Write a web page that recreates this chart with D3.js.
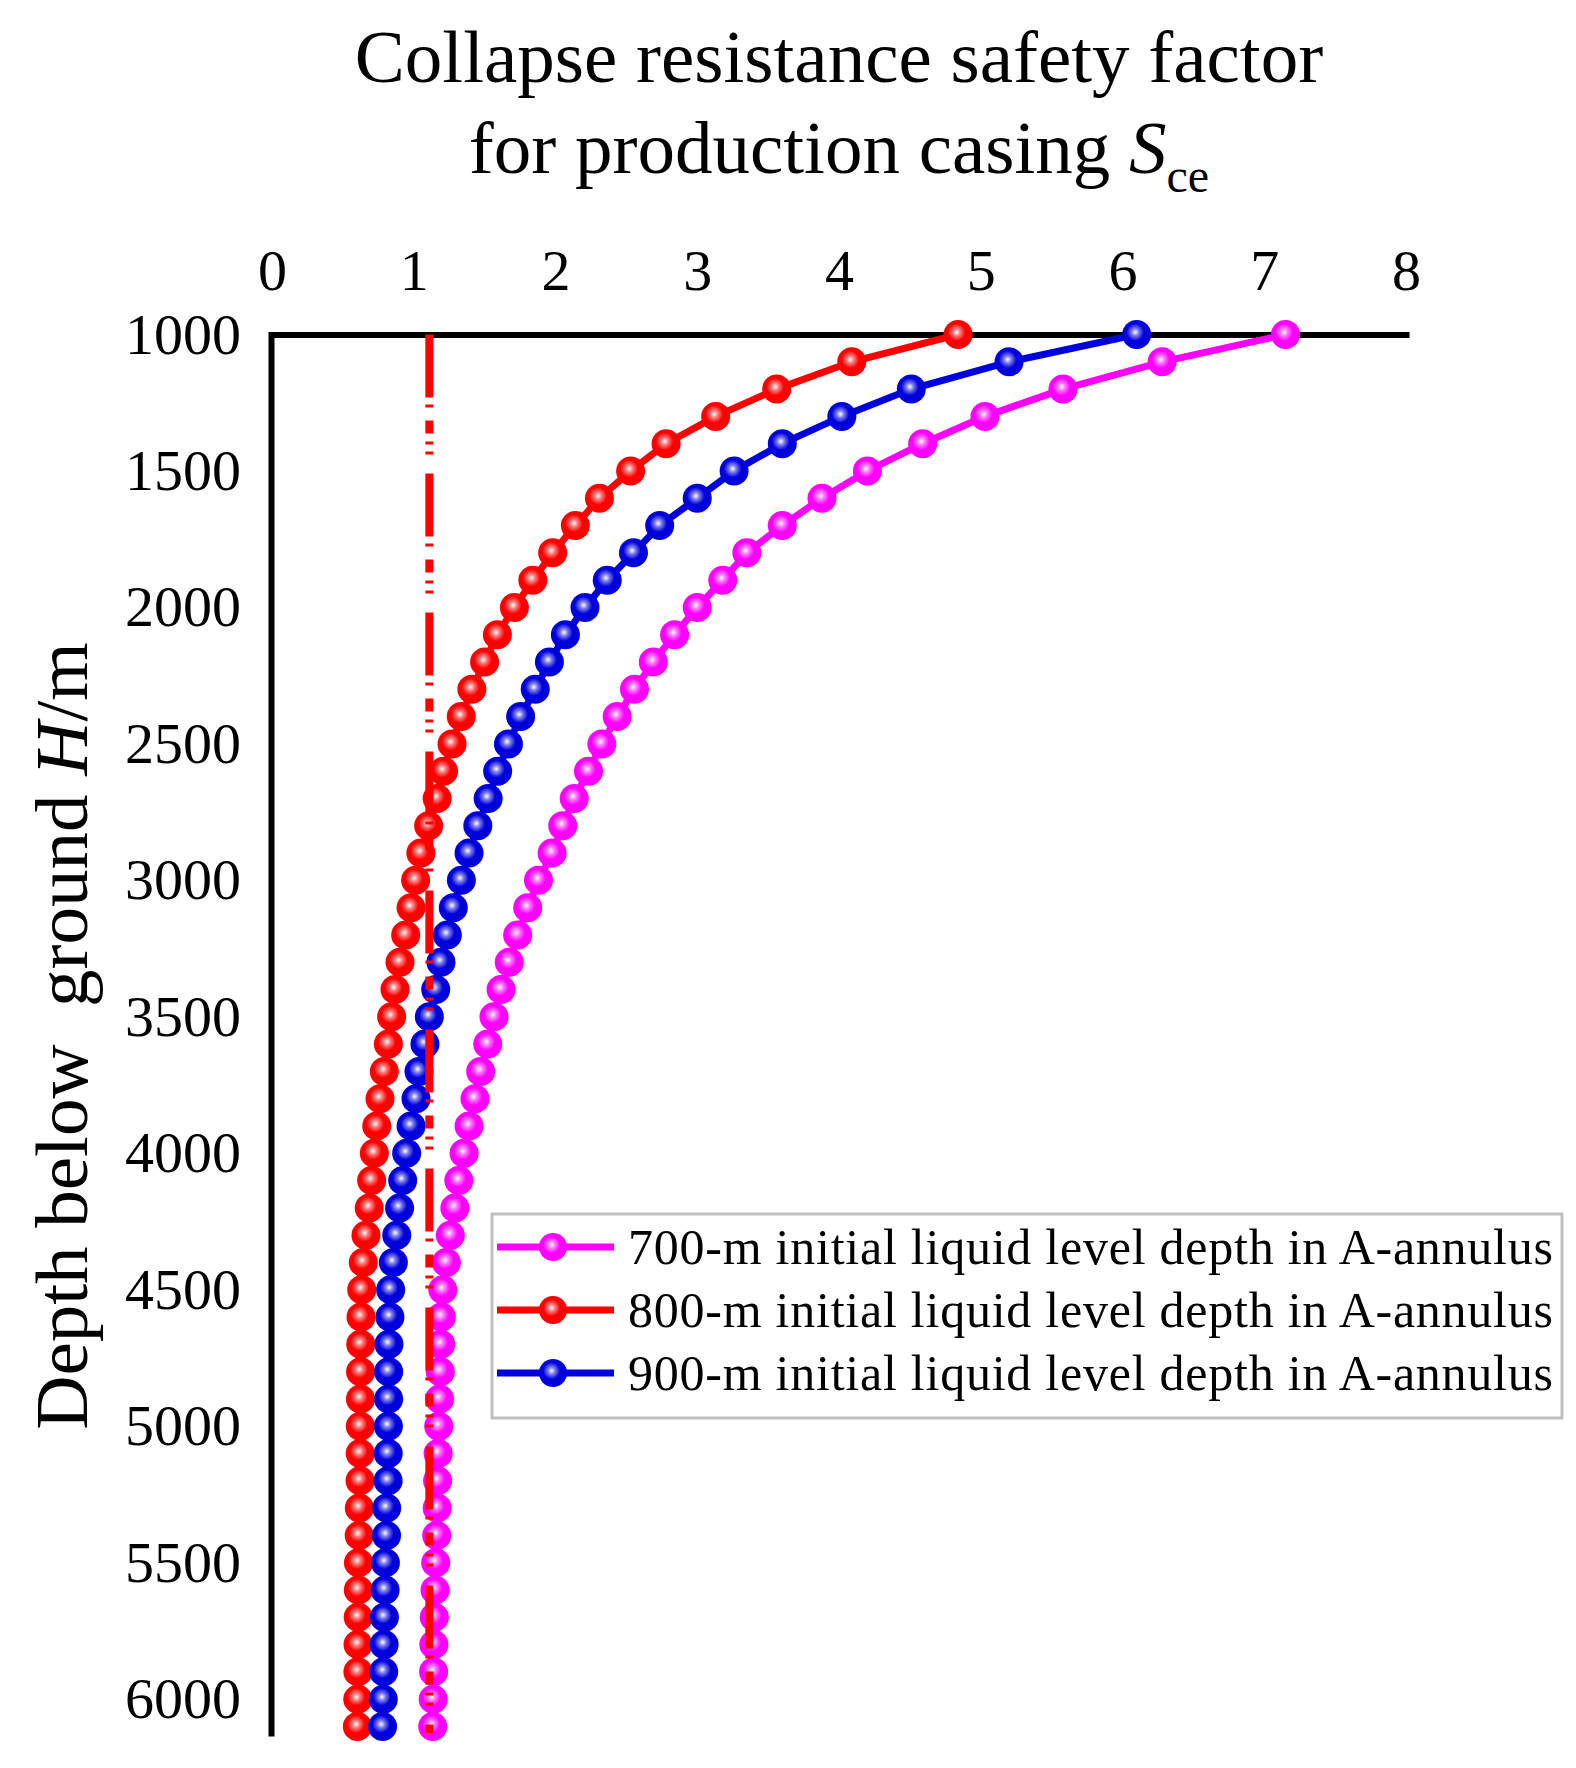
<!DOCTYPE html>
<html>
<head>
<meta charset="utf-8">
<script src="https://cdn.jsdelivr.net/npm/d3@7"></script>
<style>
  body { margin: 0; background: #fff; }
  svg { display: block; font-family: "Liberation Serif", "Times New Roman", serif; }
</style>
</head>
<body>
<svg id="chart" width="1576" height="1768"></svg>
<script>
// depth below ground, every 100 m
const depths = d3.range(1000, 6101, 100);

// collapse resistance safety factor, 700 m initial liquid level
const sf700 = [7.15, 6.28, 5.58, 5.03, 4.59, 4.20, 3.88, 3.60, 3.35, 3.18,
  3.00, 2.84, 2.69, 2.557, 2.435, 2.327, 2.233, 2.132, 2.051, 1.976,
  1.88, 1.804, 1.733, 1.674, 1.616, 1.566, 1.522, 1.472, 1.432, 1.39,
  1.355, 1.318, 1.29, 1.258, 1.23, 1.205, 1.195, 1.19, 1.187, 1.182,
  1.176, 1.172, 1.168, 1.165, 1.162, 1.155, 1.15, 1.145, 1.142, 1.14,
  1.137, 1.134];

// 800 m initial liquid level
const sf800 = [4.84, 4.09, 3.56, 3.13, 2.78, 2.53, 2.31, 2.14, 1.98, 1.84,
  1.71, 1.59, 1.50, 1.41, 1.335, 1.27, 1.21, 1.165, 1.105, 1.05,
  1.013, 0.981, 0.943, 0.903, 0.868, 0.844, 0.821, 0.792, 0.762, 0.739,
  0.722, 0.703, 0.686, 0.663, 0.644, 0.633, 0.628, 0.626, 0.625, 0.624,
  0.623, 0.622, 0.621, 0.616, 0.615, 0.610, 0.609, 0.608, 0.607, 0.606,
  0.605, 0.602];

// 900 m initial liquid level
const sf900 = [6.10, 5.20, 4.51, 4.02, 3.60, 3.26, 3.00, 2.735, 2.55, 2.365,
  2.208, 2.07, 1.957, 1.857, 1.754, 1.668, 1.592, 1.525, 1.452, 1.39,
  1.336, 1.279, 1.237, 1.192, 1.155, 1.11, 1.079, 1.037, 1.016, 0.981,
  0.95, 0.922, 0.90, 0.88, 0.856, 0.837, 0.832, 0.825, 0.823, 0.823,
  0.821, 0.820, 0.819, 0.809, 0.808, 0.800, 0.798, 0.793, 0.791, 0.788,
  0.785, 0.780];

// minimum allowed safety factor (dash-dot reference line)
const sfLimit = 1.11;

const seriesNames = [
  "700-m initial liquid level depth in A-annulus",
  "800-m initial liquid level depth in A-annulus",
  "900-m initial liquid level depth in A-annulus"
];
const seriesColors = ["#ff00ff", "#ff0000", "#0000dc"];
const xTicks = d3.range(0, 9, 1);
const yTicks = d3.range(1000, 6001, 500);

const series = [sf700, sf800, sf900].map((vals, i) => ({
  name: seriesNames[i],
  color: seriesColors[i],
  points: vals.map((v, j) => ({ sf: v, depth: depths[j] }))
}));

const svg = d3.select("#chart");

const x = d3.scaleLinear().domain([0, 8]).range([272, 1406]);
const y = d3.scaleLinear().domain([1000, 6124]).range([334.5, 1733]);

// highlight gradients for the markers
const defs = svg.append("defs");
series.forEach((s, i) => {
  const g = defs.append("radialGradient")
    .attr("id", "mk" + i)
    .attr("cx", "45%").attr("cy", "42%").attr("r", "55%");
  g.append("stop").attr("offset", "0%").attr("stop-color", "#ffffff");
  g.append("stop").attr("offset", "22%").attr("stop-color", d3.interpolateRgb("#ffffff", s.color)(0.5));
  g.append("stop").attr("offset", "55%").attr("stop-color", s.color);
});

// title
svg.append("text")
  .attr("x", 839).attr("y", 82)
  .attr("text-anchor", "middle")
  .attr("font-size", 75)
  .text("Collapse resistance safety factor");
const t2 = svg.append("text")
  .attr("x", 839).attr("y", 173)
  .attr("text-anchor", "middle")
  .attr("font-size", 75);
t2.append("tspan").text("for production casing ");
t2.append("tspan").attr("font-style", "italic").text("S");
t2.append("tspan").attr("font-size", 48).attr("dy", 19).text("ce");

// axes
const xAxis = svg.append("g")
  .attr("transform", "translate(0,334.5)")
  .call(d3.axisTop(x).tickValues(xTicks).tickSize(0).tickPadding(45).tickFormat(d3.format("d")));

const yAxis = svg.append("g")
  .attr("transform", "translate(271,0)")
  .call(d3.axisLeft(y).tickValues(yTicks).tickSize(0).tickPadding(30).tickFormat(d3.format("d")));

[xAxis, yAxis].forEach(ax => {
  ax.select(".domain").attr("stroke", "#000").attr("stroke-width", 6).attr("stroke-linecap", "square");
  ax.selectAll("text").attr("font-size", 58).attr("fill", "#000")
    .attr("font-family", "'Liberation Serif', 'Times New Roman', serif");
});

// y axis title
const yTitle = svg.append("text")
  .attr("transform", "translate(87,1036) rotate(-90)")
  .attr("text-anchor", "middle")
  .attr("font-size", 75)
  .attr("xml:space", "preserve");
yTitle.append("tspan").text("Depth below  ground ");
yTitle.append("tspan").attr("font-style", "italic").text("H");
yTitle.append("tspan").text("/m");

// series lines and markers
const line = d3.line().x(d => x(d.sf)).y(d => y(d.depth));

series.forEach((s, i) => {
  const g = svg.append("g");
  g.append("path")
    .datum(s.points)
    .attr("fill", "none")
    .attr("stroke", s.color)
    .attr("stroke-width", 7)
    .attr("d", line);
  g.selectAll("circle")
    .data(s.points)
    .enter().append("circle")
    .attr("cx", d => x(d.sf))
    .attr("cy", d => y(d.depth))
    .attr("r", 14.5)
    .attr("fill", "url(#mk" + i + ")");
});

// limit line
svg.append("line")
  .attr("x1", x(sfLimit)).attr("x2", x(sfLimit))
  .attr("y1", y(1000)).attr("y2", y(6124))
  .attr("stroke", "#ff0000")
  .attr("stroke-width", 8)
  .attr("stroke-dasharray", "63,7,3,13,13,8,3,7,3,19");

// legend
const legend = svg.append("g");
legend.append("rect")
  .attr("x", 492).attr("y", 1214)
  .attr("width", 1070).attr("height", 204)
  .attr("fill", "#fff")
  .attr("stroke", "#c0c0c0")
  .attr("stroke-width", 3);

const rowY = [1247, 1310, 1373];
series.forEach((s, i) => {
  const row = legend.append("g").attr("transform", `translate(0,${rowY[i]})`);
  row.append("line")
    .attr("x1", 497).attr("x2", 614)
    .attr("stroke", s.color).attr("stroke-width", 7);
  row.append("circle")
    .attr("cx", 553).attr("r", 14)
    .attr("fill", "url(#mk" + i + ")");
  row.append("text")
    .attr("x", 628).attr("y", 17)
    .attr("font-size", 50)
    .attr("textLength", 925)
    .attr("lengthAdjust", "spacing")
    .text(s.name);
});
</script>
</body>
</html>
